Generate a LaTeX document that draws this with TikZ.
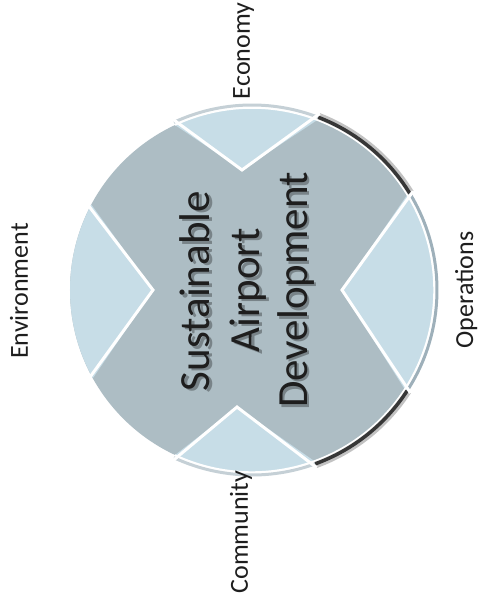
\documentclass[tikz,border=0pt]{standalone}
\usepackage{fontspec}
\setmainfont{Carlito}
\usepackage{tikz}
\usetikzlibrary{positioning}
\definecolor{armgray}{RGB}{173,189,196}
\definecolor{wedgeblue}{RGB}{199,221,231}
\definecolor{rimblue}{RGB}{158,176,186}
\definecolor{darkshade}{RGB}{55,55,55}
\definecolor{inkdark}{RGB}{30,30,30}

\begin{document}
\begin{tikzpicture}[x=1pt, y=1pt,
    pillar/.style={font=\fontsize{26}{30}\selectfont, text=inkdark,
                   anchor=base, rotate=90, inner sep=0pt},
    core/.style={font=\fontsize{43}{50}\selectfont, text=inkdark,
                 anchor=base, rotate=90, inner sep=0pt},
    coreshadow/.style={core, text=black, opacity=0.3}]
  \useasboundingbox (-252,-326) rectangle (228,290);
  \fill[white] (-252,-326) rectangle (228,290);
  \coordinate (c) at (0,0);

  % rim and shadow outside the disc
  \draw[rimblue!60, line width=3pt] (69:185) arc[start angle=69, end angle=115, radius=185pt];
  \draw[rimblue, line width=3pt] (-33:185) arc[start angle=-33, end angle=31.5, radius=185pt];
  \draw[rimblue!60, line width=3pt] (245:185) arc[start angle=245, end angle=290, radius=185pt];
  \draw[darkshade, line width=7pt, opacity=0.3] (31.5:186) arc[start angle=31.5, end angle=69, radius=186pt];
  \draw[darkshade, line width=3.5pt] (31.5:185) arc[start angle=31.5, end angle=69, radius=185pt];
  \draw[darkshade, line width=7pt, opacity=0.3] (-70:186) arc[start angle=-70, end angle=-33, radius=186pt];
  \draw[darkshade, line width=3.5pt] (-70:185) arc[start angle=-70, end angle=-33, radius=185pt];

  % disc with the cross
  \fill[armgray] (c) circle[radius=182pt];
  \foreach \ai/\aii/\x/\y in {69/115/-10/120, 152/209/-99/0, -33/31.5/90/0, 245/290/-15/-117} {
    \fill[wedgeblue] (\x,\y) -- (\ai:182) arc[start angle=\ai, end angle=\aii, radius=182pt] -- cycle;
    \draw[white, line width=3pt, line join=miter] (\ai:189) -- (\x,\y) -- (\aii:189);
  }
  \draw[white, line width=1.5pt] (245:182) arc[start angle=245, end angle=475, radius=182pt];

  % centre text
  \node[coreshadow] (sustsh) at (-39.5,-3.5) {Sustainable};
  \node[coreshadow] (airpsh) at (10.5,-2.5) {Airport};
  \node[coreshadow] (develsh) at (57.5,-2.5) {Development};
  \node[core] (sust) at (-42,-1) {Sustainable};
  \node[core] (airp) at (8,0) {Airport};
  \node[core] (devel) at (55,0) {Development};

  % pillars
  \node[pillar] (econ) at (-2,239) {Economy};
  \node[pillar] (env) at (-224,-1) {Environment};
  \node[pillar] (ops) at (221,0) {Operations};
  \node[pillar] (comm) at (-4,-242) {Community};
\end{tikzpicture}
\end{document}
